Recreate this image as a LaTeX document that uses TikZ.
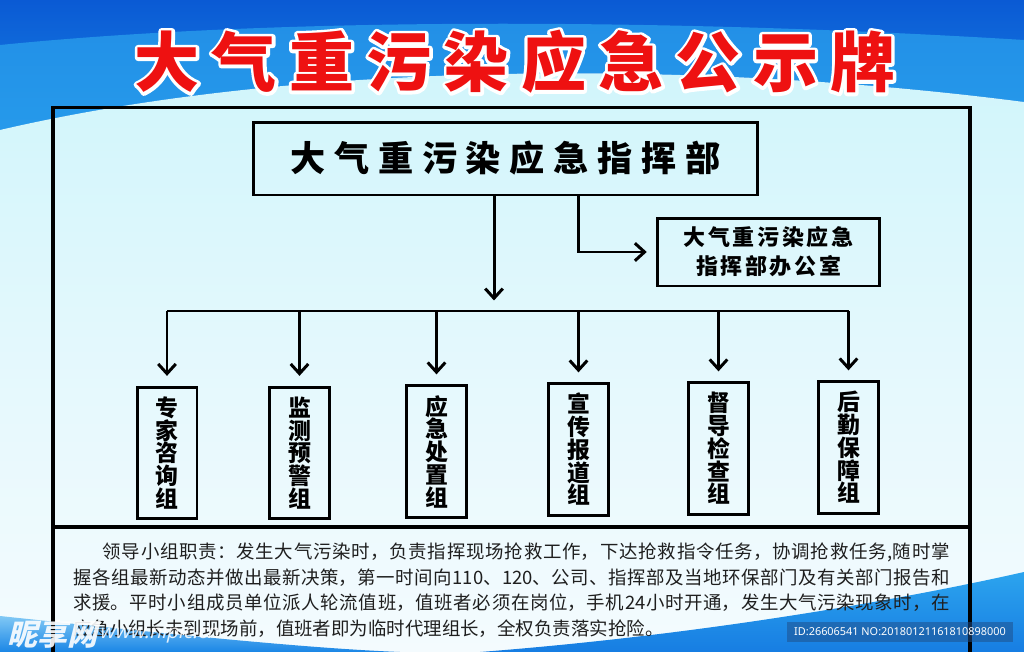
\documentclass[tikz,border=0pt]{standalone}
\usepackage{fontspec}
\usepackage{xcolor}
\usepackage{tikz}
\usetikzlibrary{arrows.meta, positioning}
\setmainfont{Noto Sans CJK SC}
\newfontfamily\latinsans{Noto Sans}

\definecolor{topblue}{HTML}{0A5AD4}
\definecolor{midblue}{HTML}{1A86E6}
\definecolor{bandblue}{HTML}{2CA4EE}
\definecolor{paleblue}{HTML}{D0F5FB}
\definecolor{whiteblue}{HTML}{F4FBFE}
\definecolor{titlered}{HTML}{EE1111}

% spread the letters of a word
\protected\def\letterspread#1#2{\def\lsgap{#1}\lsloop#2\relax\unskip}
\def\lsloop#1{\ifx#1\relax\else#1\hskip\lsgap\relax\expandafter\lsloop\fi}
% stroked (outline only) text
\newcommand\strokedtext[2]{\special{pdf:literal direct 1 Tr #1 w 1 j}#2\special{pdf:literal direct 0 Tr}}

\begin{document}
\begin{tikzpicture}[
  x=0.02cm, y=-0.02cm,
  frameline/.style={
    draw=black,
    line width=2.1pt
  },
  headbox/.style={
    draw=black,
    line width=1.7pt,
    inner sep=0pt,
    align=center
  },
  groupbox/.style={
    draw=black,
    line width=1.7pt,
    minimum width=1.2cm,
    minimum height=2.64cm,
    inner sep=0pt,
    align=center,
    font=\bfseries\fontsize{13pt}{12.95pt}\selectfont
  },
  arrow/.style={
    draw=black,
    line width=1.7pt,
    -{Straight Barb[length=5.5pt,width=10pt]}
  },
  titletext/.style={
    font=\bfseries\fontsize{37pt}{40pt}\selectfont,
    inner sep=0pt
  }
]
\useasboundingbox (0,0) rectangle (1024,652);

% Background
\shade[top color=topblue, bottom color=midblue] (0,0) rectangle (1024,140);
\fill[bandblue, opacity=.7] (0,45) .. controls (300,15) and (700,20) .. (1024,40)
  -- (1024,102) .. controls (700,60) and (300,60) .. (0,130) -- cycle;
\shade[top color=paleblue, bottom color=whiteblue, middle color=paleblue!45!whiteblue]
  (0,130) .. controls (300,60) and (700,60) .. (1024,102) -- (1024,652) -- (0,652) -- cycle;
\shade[top color=bandblue!60!white, bottom color=midblue]
  (0,616) .. controls (150,632) and (300,648) .. (400,652) -- (0,652) -- cycle;
\shade[top color=bandblue, bottom color=midblue!80!topblue]
  (480,652) .. controls (700,635) and (900,600) .. (1024,572) -- (1024,652) -- cycle;

% Title
\node[titletext, text=white] (titlerim) at (515,62)
{\strokedtext{3.6}{\letterspread{7pt}{大气重污染应急公示牌}}};
\node[titletext, text=titlered] (title) at (titlerim)
{\letterspread{7pt}{大气重污染应急公示牌}};

% Frame and separator
\draw[frameline] (53,652) -- (53,107.5) -- (970,107.5) -- (970,652);
\draw[frameline] (53,527) -- (970,527);

% Command and office
\node[headbox, minimum width=10.1cm, minimum height=1.46cm,
  font=\bfseries\fontsize{20pt}{22pt}\selectfont] (cmd) at (505.5,158.5)
{\letterspread{5pt}{大气重污染应急指挥部}};

\node[headbox, minimum width=4.46cm, minimum height=1.36cm,
  font=\bfseries\fontsize{12.5pt}{16.5pt}\selectfont] (office) at (768.5,252)
{\letterspread{1.5pt}{大气重污染应急}\\\letterspread{1.5pt}{指挥部办公室}};

% Groups
\node[groupbox] (g1) at (167,453) {专\\家\\咨\\询\\组};
\node[groupbox] (g2) at (299.5,453) {监\\测\\预\\警\\组};
\node[groupbox] (g3) at (436.5,451.5) {应\\急\\处\\置\\组};
\node[groupbox] (g4) at (578.5,449.5) {宣\\传\\报\\道\\组};
\node[groupbox] (g5) at (718.5,448.5) {督\\导\\检\\查\\组};
\node[groupbox] (g6) at (848.5,447.5) {后\\勤\\保\\障\\组};

% Connectors
\coordinate (bus) at (494,311);
\coordinate (elbow) at (578,252);
\draw[arrow, shorten >=6pt] (cmd.south -| bus) -- (bus);
\draw[arrow, shorten >=5pt] (cmd.south -| elbow) -- (elbow) -- (office.west);
\draw[line width=1.7pt] (g1.north |- bus) -- (g6.north |- bus);
\foreach \g in {g1,g2,g3,g4,g5,g6}
  \draw[arrow, shorten >=5.5pt] (\g.north |- bus) -- (\g.north);

% Duties
\node[text width=499pt, align=justify, inner sep=0pt, text=black!88,
  font=\fontsize{10.5pt}{14.5pt}\selectfont] (duty) at (511.5,590)
{\XeTeXlinebreaklocale "zh"\XeTeXlinebreakskip=0pt plus 2pt\relax
\hspace*{1.6em}领导小组职责：发生大气污染时，负责指挥现场抢救工作，下达抢救指令任务，协调抢救任务,随时掌\linebreak
握各组最新动态并做出最新决策，第一时间向110、120、公司、指挥部及当地环保部门及有关部门报告和\linebreak
求援。平时小组成员单位派人轮流值班，值班者必须在岗位，手机24小时开通，发生大气污染现象时，在\linebreak
应急小组长未到现场前，值班者即为临时代理组长，全权负责落实抢险。};

% Marks
\begin{scope}[shift={(55,634)}, xslant=.25]
\node[transform shape, text=white, opacity=.9, inner sep=0pt,
  font=\bfseries\fontsize{17pt}{17pt}\selectfont] (mark) at (0,0) {昵享网};
\node[transform shape, text=white, opacity=.85, inner sep=0pt, anchor=west,
  font=\latinsans\bfseries\fontsize{11pt}{11pt}\selectfont] (site) at (45,0) {www.nipic.cn};
\end{scope}
\node[fill={rgb,255:red,30;green,80;blue,140}, fill opacity=.55, text opacity=1,
  text=white, inner sep=0pt, minimum width=4.52cm, minimum height=0.4cm,
  font=\latinsans\fontsize{6.2pt}{7pt}\selectfont] (stockid) at (900,632)
{ID:26606541 NO:20180121161810898000};

\end{tikzpicture}
\end{document}
